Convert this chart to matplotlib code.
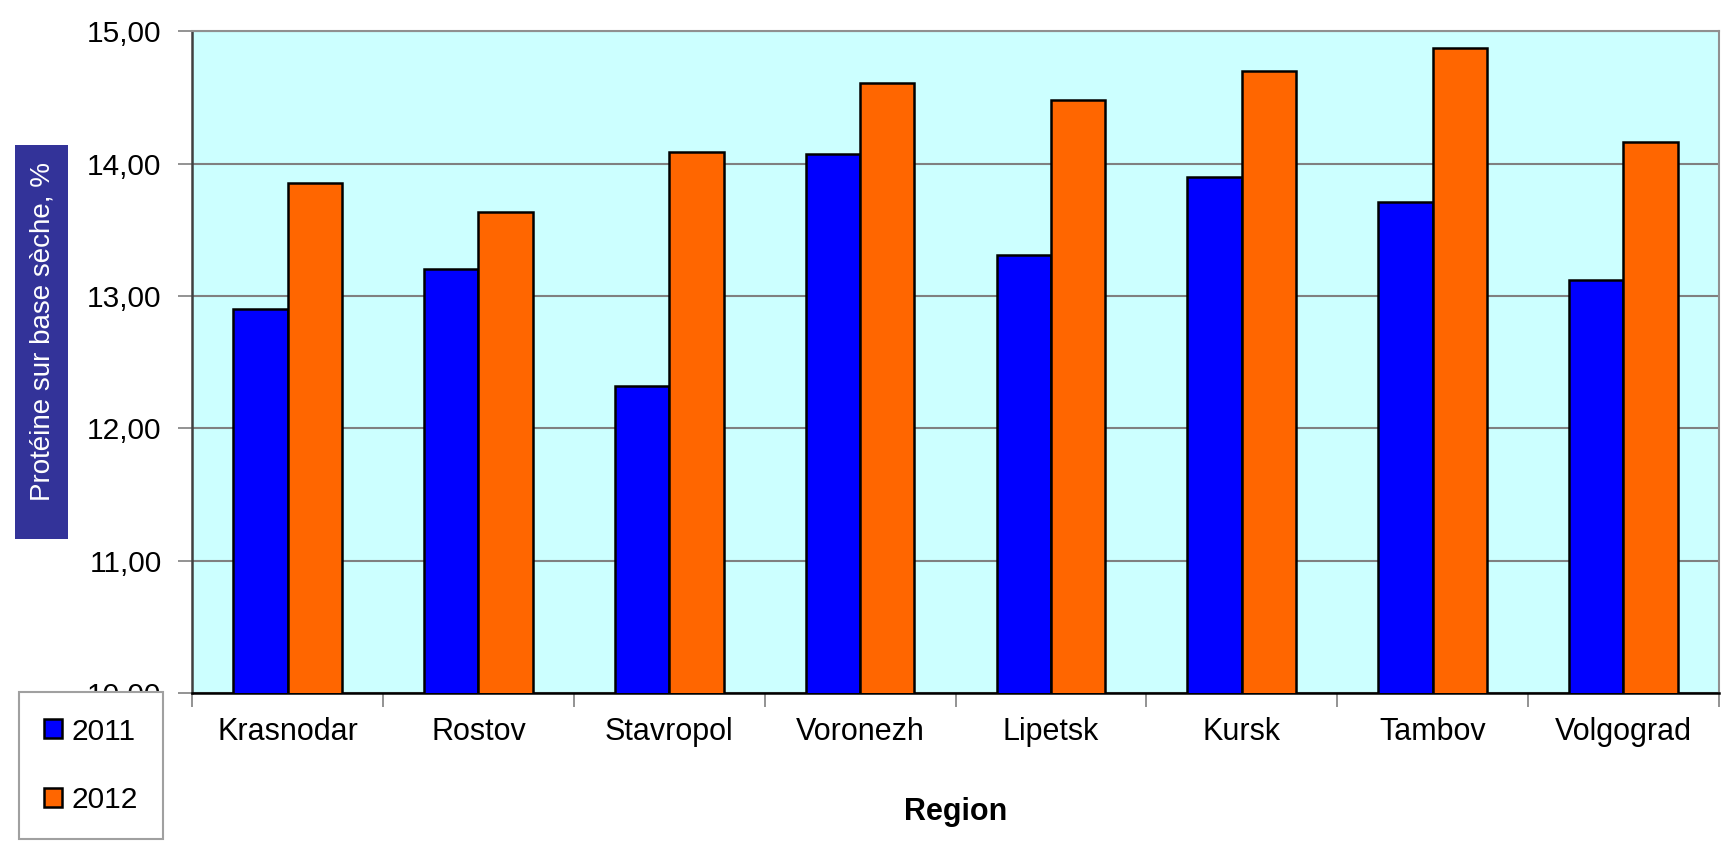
import numpy as np
import matplotlib.pyplot as plt
from matplotlib.patches import Rectangle

regions = ["Krasnodar", "Rostov", "Stavropol", "Voronezh", "Lipetsk", "Kursk", "Tambov", "Volgograd"]
protein_2011 = [12.90, 13.20, 12.32, 14.07, 13.31, 13.90, 13.71, 13.12]
protein_2012 = [13.85, 13.63, 14.09, 14.61, 14.48, 14.70, 14.87, 14.16]
y_ticks = [10, 11, 12, 13, 14, 15]

plt.rcParams['font.family'] = ['Liberation Sans', 'DejaVu Sans']

fig = plt.figure(figsize=(17.31, 8.42), dpi=100)
ax = fig.add_axes([0.111, 0.177, 0.882, 0.786])
ax.set_facecolor('#CCFFFF')

x = np.arange(len(regions))
w = 0.285
ax.bar(x - w / 2, protein_2011, w, color='#0000FF', edgecolor='black', linewidth=1.8, label='2011', zorder=3)
ax.bar(x + w / 2, protein_2012, w, color='#FF6600', edgecolor='black', linewidth=1.8, label='2012', zorder=3)

ax.set_ylim(10, 15)
ax.set_xlim(-0.5, len(regions) - 0.5)
ax.set_yticks(y_ticks)
ax.set_yticklabels([f"{v:.2f}".replace('.', ',') for v in y_ticks], fontsize=21.5)
ax.yaxis.grid(True, color='#808080', linewidth=1.5, zorder=0)
ax.set_axisbelow(True)

# category labels in the middle, ticks on the boundaries
ax.set_xticks(x)
ax.set_xticklabels(regions, fontsize=22)
ax.tick_params(axis='x', length=0, pad=17)
ax.set_xticks(np.arange(-0.5, len(regions)), minor=True)
ax.tick_params(axis='x', which='minor', length=10, color='#808080', width=1.2)
ax.tick_params(axis='y', length=10, color='#808080', width=1.2, pad=12)

for side in ['top', 'right']:
    ax.spines[side].set_color('#909090')
    ax.spines[side].set_linewidth(1.5)
ax.spines['left'].set_color('#404040')
ax.spines['left'].set_linewidth(1.8)
ax.spines['bottom'].set_color('black')
ax.spines['bottom'].set_linewidth(1.8)

ax.set_xlabel("Region", fontsize=22, fontweight='bold', labelpad=36)

# y label drawn as white text on a dark blue box
fig.patches.append(Rectangle((0.0087, 0.360), 0.0306, 0.468, transform=fig.transFigure,
                             facecolor='#333399', edgecolor='none', zorder=1))
fig.text(0.0245, 0.606, "Protéine sur base sèche, %", rotation=90, color='white',
         fontsize=20, ha='center', va='center', zorder=2)

leg = fig.legend(loc='upper left', bbox_to_anchor=(0.011, 0.178), fontsize=21.5,
                 frameon=True, fancybox=False, edgecolor='#A0A0A0', framealpha=1,
                 handlelength=0.6, handleheight=0.6, handletextpad=0.3,
                 labelspacing=1.35, borderpad=0.85, borderaxespad=0)
leg.set_zorder(5)
leg.get_frame().set_linewidth(1.5)

fig.savefig("out.png", dpi=100)
